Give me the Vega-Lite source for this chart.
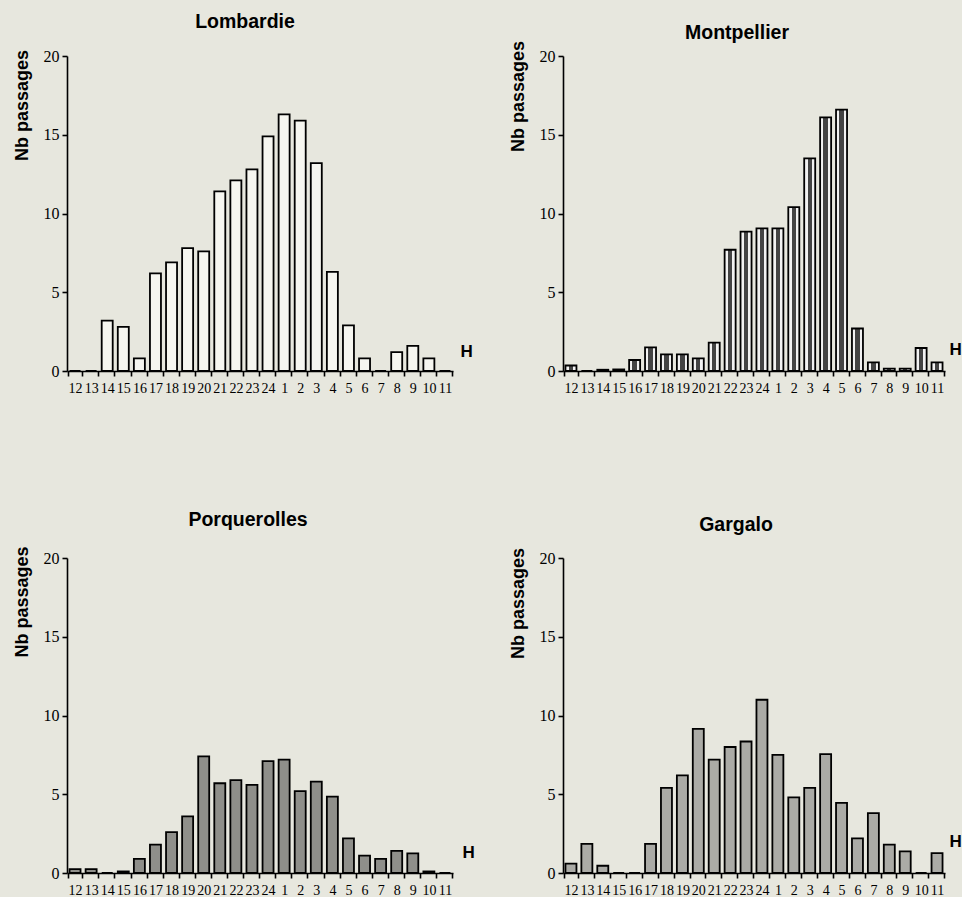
{
  "$schema": "https://vega.github.io/schema/vega-lite/v6.json",
  "background": "#e7e7de",
  "padding": {"left": 12, "top": 11, "right": 0, "bottom": 0},
  "columns": 2,
  "bounds": "flush",
  "spacing": {"column": 110, "row": 187},
  "config": {
    "view": {"stroke": null},
    "title": {"font": "Liberation Sans", "fontWeight": "bold", "fontSize": 19.5, "color": "black", "frame": "group", "baseline": "alphabetic", "anchor": "middle"},
    "bar": {"stroke": "black", "strokeWidth": 1.8}
  },
  "datasets": {
    "lombardie": [
      {"h": "12", "n": 0}, {"h": "13", "n": 0}, {"h": "14", "n": 3.2}, {"h": "15", "n": 2.8},
      {"h": "16", "n": 0.8}, {"h": "17", "n": 6.2}, {"h": "18", "n": 6.9}, {"h": "19", "n": 7.8},
      {"h": "20", "n": 7.6}, {"h": "21", "n": 11.4}, {"h": "22", "n": 12.1}, {"h": "23", "n": 12.8},
      {"h": "24", "n": 14.9}, {"h": "1", "n": 16.3}, {"h": "2", "n": 15.9}, {"h": "3", "n": 13.2},
      {"h": "4", "n": 6.3}, {"h": "5", "n": 2.9}, {"h": "6", "n": 0.8}, {"h": "7", "n": 0},
      {"h": "8", "n": 1.2}, {"h": "9", "n": 1.6}, {"h": "10", "n": 0.8}, {"h": "11", "n": 0}
    ],
    "montpellier": [
      {"h": "12", "n": 0.35}, {"h": "13", "n": 0}, {"h": "14", "n": 0.08}, {"h": "15", "n": 0.1},
      {"h": "16", "n": 0.7}, {"h": "17", "n": 1.5}, {"h": "18", "n": 1.05}, {"h": "19", "n": 1.05},
      {"h": "20", "n": 0.8}, {"h": "21", "n": 1.8}, {"h": "22", "n": 7.7}, {"h": "23", "n": 8.85},
      {"h": "24", "n": 9.05}, {"h": "1", "n": 9.05}, {"h": "2", "n": 10.4}, {"h": "3", "n": 13.5},
      {"h": "4", "n": 16.1}, {"h": "5", "n": 16.6}, {"h": "6", "n": 2.7}, {"h": "7", "n": 0.55},
      {"h": "8", "n": 0.15}, {"h": "9", "n": 0.15}, {"h": "10", "n": 1.46}, {"h": "11", "n": 0.55}
    ],
    "porquerolles": [
      {"h": "12", "n": 0.25}, {"h": "13", "n": 0.25}, {"h": "14", "n": 0}, {"h": "15", "n": 0.1},
      {"h": "16", "n": 0.9}, {"h": "17", "n": 1.8}, {"h": "18", "n": 2.6}, {"h": "19", "n": 3.6},
      {"h": "20", "n": 7.4}, {"h": "21", "n": 5.7}, {"h": "22", "n": 5.9}, {"h": "23", "n": 5.6},
      {"h": "24", "n": 7.1}, {"h": "1", "n": 7.2}, {"h": "2", "n": 5.2}, {"h": "3", "n": 5.8},
      {"h": "4", "n": 4.85}, {"h": "5", "n": 2.2}, {"h": "6", "n": 1.1}, {"h": "7", "n": 0.9},
      {"h": "8", "n": 1.4}, {"h": "9", "n": 1.25}, {"h": "10", "n": 0.1}, {"h": "11", "n": 0}
    ],
    "gargalo": [
      {"h": "12", "n": 0.6}, {"h": "13", "n": 1.85}, {"h": "14", "n": 0.46}, {"h": "15", "n": 0},
      {"h": "16", "n": 0}, {"h": "17", "n": 1.85}, {"h": "18", "n": 5.4}, {"h": "19", "n": 6.2},
      {"h": "20", "n": 9.15}, {"h": "21", "n": 7.2}, {"h": "22", "n": 8.0}, {"h": "23", "n": 8.35},
      {"h": "24", "n": 11.0}, {"h": "1", "n": 7.5}, {"h": "2", "n": 4.8}, {"h": "3", "n": 5.4},
      {"h": "4", "n": 7.55}, {"h": "5", "n": 4.45}, {"h": "6", "n": 2.2}, {"h": "7", "n": 3.8},
      {"h": "8", "n": 1.8}, {"h": "9", "n": 1.37}, {"h": "10", "n": 0}, {"h": "11", "n": 1.26}
    ]
  },
  "concat": [
    {
      "title": {"text": "Lombardie", "offset": 16, "dx": -15},
      "width": 386, "height": 315,
      "data": {"name": "lombardie"},
      "mark": {"type": "bar", "fill": "#f6f6f0", "width": 11},
      "encoding": {
        "x": {"field": "h", "type": "ordinal", "scale": {"domain": ["12","13","14","15","16","17","18","19","20","21","22","23","24","1","2","3","4","5","6","7","8","9","10","11"]},
          "axis": {"title": "H", "titleX": 393, "titleY": -15, "domainColor": "black", "domainWidth": 1.6, "tickColor": "black", "tickWidth": 1.6, "tickSize": 5, "tickBand": "extent", "labelFont": "Liberation Serif", "labelFontSize": 14, "labelColor": "black", "labelAngle": 0, "labelPadding": 5, "titleFont": "Liberation Sans", "titleFontWeight": "bold", "titleFontSize": 17, "titleColor": "black", "titleAngle": 0, "titleAlign": "left", "titleBaseline": "alphabetic"}},
        "y": {"field": "n", "type": "quantitative", "scale": {"domain": [0, 20], "nice": false},
          "axis": {"title": "Nb passages", "titleX": -36, "titleY": 49, "values": [0, 5, 10, 15, 20], "grid": false, "domainColor": "black", "domainWidth": 1.6, "tickColor": "black", "tickWidth": 1.6, "tickSize": 5, "labelFont": "Liberation Serif", "labelFontSize": 16, "labelColor": "black", "labelPadding": 3, "titleFont": "Liberation Sans", "titleFontWeight": "bold", "titleFontSize": 18, "titleColor": "black", "titleAngle": -90, "titleAlign": "center", "titleBaseline": "bottom"}}
      }
    },
    {
      "title": {"text": "Montpellier", "offset": -3, "dx": -17},
      "width": 382, "height": 315,
      "data": {"name": "montpellier"},
      "mark": {"type": "bar", "width": 11, "fill": {"gradient": "linear", "x1": 0, "y1": 0, "x2": 1, "y2": 0, "stops": [
        {"offset": 0, "color": "#f2f2f2"}, {"offset": 0.3, "color": "#f2f2f2"},
        {"offset": 0.3, "color": "#444444"}, {"offset": 0.7, "color": "#444444"},
        {"offset": 0.7, "color": "#f2f2f2"}, {"offset": 1, "color": "#f2f2f2"}]}},
      "encoding": {
        "x": {"field": "h", "type": "ordinal", "scale": {"domain": ["12","13","14","15","16","17","18","19","20","21","22","23","24","1","2","3","4","5","6","7","8","9","10","11"]},
          "axis": {"title": "H", "titleX": 386, "titleY": -17, "domainColor": "black", "domainWidth": 1.6, "tickColor": "black", "tickWidth": 1.6, "tickSize": 5, "tickBand": "extent", "labelFont": "Liberation Serif", "labelFontSize": 14, "labelColor": "black", "labelAngle": 0, "labelPadding": 5, "titleFont": "Liberation Sans", "titleFontWeight": "bold", "titleFontSize": 17, "titleColor": "black", "titleAngle": 0, "titleAlign": "left", "titleBaseline": "alphabetic"}},
        "y": {"field": "n", "type": "quantitative", "scale": {"domain": [0, 20], "nice": false},
          "axis": {"title": "Nb passages", "titleX": -36, "titleY": 40, "values": [0, 5, 10, 15, 20], "grid": false, "domainColor": "black", "domainWidth": 1.6, "tickColor": "black", "tickWidth": 1.6, "tickSize": 5, "labelFont": "Liberation Serif", "labelFontSize": 16, "labelColor": "black", "labelPadding": 3, "titleFont": "Liberation Sans", "titleFontWeight": "bold", "titleFontSize": 18, "titleColor": "black", "titleAngle": -90, "titleAlign": "center", "titleBaseline": "bottom"}}
      }
    },
    {
      "title": {"text": "Porquerolles", "offset": 15.5, "dx": -12},
      "width": 386, "height": 315,
      "data": {"name": "porquerolles"},
      "mark": {"type": "bar", "fill": "#8f8f8a", "width": 11},
      "encoding": {
        "x": {"field": "h", "type": "ordinal", "scale": {"domain": ["12","13","14","15","16","17","18","19","20","21","22","23","24","1","2","3","4","5","6","7","8","9","10","11"]},
          "axis": {"title": "H", "titleX": 395, "titleY": -16, "domainColor": "black", "domainWidth": 1.6, "tickColor": "black", "tickWidth": 1.6, "tickSize": 5, "tickBand": "extent", "labelFont": "Liberation Serif", "labelFontSize": 14, "labelColor": "black", "labelAngle": 0, "labelPadding": 5, "titleFont": "Liberation Sans", "titleFontWeight": "bold", "titleFontSize": 17, "titleColor": "black", "titleAngle": 0, "titleAlign": "left", "titleBaseline": "alphabetic"}},
        "y": {"field": "n", "type": "quantitative", "scale": {"domain": [0, 20], "nice": false},
          "axis": {"title": "Nb passages", "titleX": -36, "titleY": 43.5, "values": [0, 5, 10, 15, 20], "grid": false, "domainColor": "black", "domainWidth": 1.6, "tickColor": "black", "tickWidth": 1.6, "tickSize": 5, "labelFont": "Liberation Serif", "labelFontSize": 16, "labelColor": "black", "labelPadding": 3, "titleFont": "Liberation Sans", "titleFontWeight": "bold", "titleFontSize": 18, "titleColor": "black", "titleAngle": -90, "titleAlign": "center", "titleBaseline": "bottom"}}
      }
    },
    {
      "title": {"text": "Gargalo", "offset": 12, "dx": -18},
      "width": 382, "height": 315,
      "data": {"name": "gargalo"},
      "mark": {"type": "bar", "fill": "#ababa6", "width": 11},
      "encoding": {
        "x": {"field": "h", "type": "ordinal", "scale": {"domain": ["12","13","14","15","16","17","18","19","20","21","22","23","24","1","2","3","4","5","6","7","8","9","10","11"]},
          "axis": {"title": "H", "titleX": 386, "titleY": -27, "domainColor": "black", "domainWidth": 1.6, "tickColor": "black", "tickWidth": 1.6, "tickSize": 5, "tickBand": "extent", "labelFont": "Liberation Serif", "labelFontSize": 14, "labelColor": "black", "labelAngle": 0, "labelPadding": 5, "titleFont": "Liberation Sans", "titleFontWeight": "bold", "titleFontSize": 17, "titleColor": "black", "titleAngle": 0, "titleAlign": "left", "titleBaseline": "alphabetic"}},
        "y": {"field": "n", "type": "quantitative", "scale": {"domain": [0, 20], "nice": false},
          "axis": {"title": "Nb passages", "titleX": -36, "titleY": 45, "values": [0, 5, 10, 15, 20], "grid": false, "domainColor": "black", "domainWidth": 1.6, "tickColor": "black", "tickWidth": 1.6, "tickSize": 5, "labelFont": "Liberation Serif", "labelFontSize": 16, "labelColor": "black", "labelPadding": 3, "titleFont": "Liberation Sans", "titleFontWeight": "bold", "titleFontSize": 18, "titleColor": "black", "titleAngle": -90, "titleAlign": "center", "titleBaseline": "bottom"}}
      }
    }
  ]
}
